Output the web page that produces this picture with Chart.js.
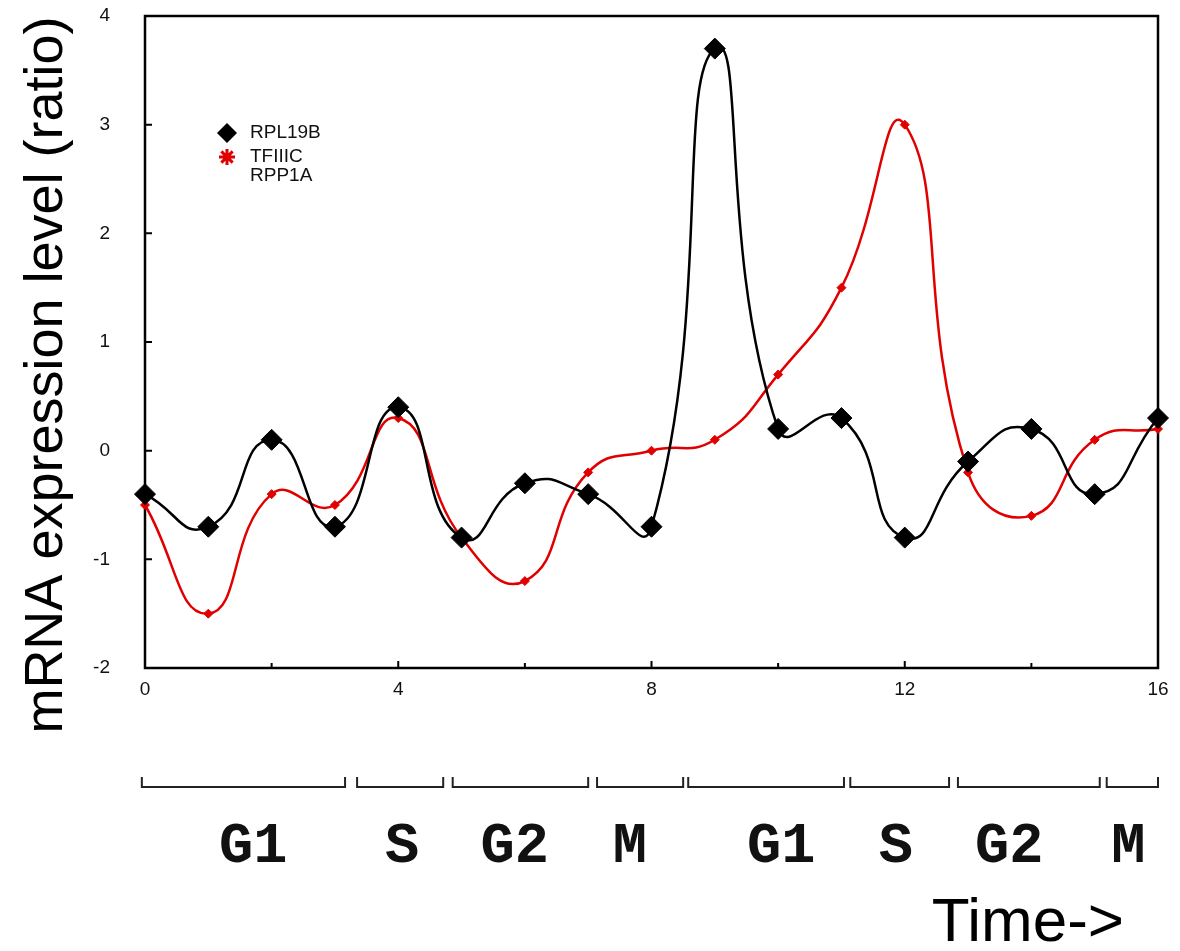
<!DOCTYPE html>
<html>
<head>
<meta charset="utf-8">
<title>mRNA expression level</title>
<script src="https://cdn.jsdelivr.net/npm/chart.js@4.4.0/dist/chart.umd.min.js"></script>
<style>
    html, body { margin: 0; padding: 0; background: #fff; }
    #wrap { position: relative; width: 1180px; height: 951px; }
</style>
</head>
<body>
<div id="wrap"><canvas id="expression_chart" width="1180" height="951"></canvas></div>
<script>
// values
var timePoints = [0, 1, 2, 3, 4, 5, 6, 7, 8, 9, 10, 11, 12, 13, 14, 15, 16];
var rpl19b = [-0.4, -0.7, 0.1, -0.7, 0.4, -0.8, -0.3, -0.4, -0.7, 3.7, 0.2, 0.3, -0.8, -0.1, 0.2, -0.4, 0.3];
var tfiiic = [-0.5, -1.5, -0.4, -0.5, 0.3, -0.8, -1.2, -0.2, 0.0, 0.1, 0.7, 1.5, 3.0, -0.2, -0.6, 0.1, 0.2];
var seriesNames = ['RPL19B', 'TFIIIC', 'RPP1A'];
var xTickLabels = [0, 4, 8, 12, 16];

// cell cycle phases along the time axis (in time units)
var phaseNames = ['G1', 'S', 'G2', 'M', 'G1', 'S', 'G2', 'M'];
var phaseStart = [-0.05, 3.35, 4.86, 7.14, 8.58, 11.14, 12.84, 15.19];
var phaseEnd = [3.16, 4.71, 7.0, 8.5, 11.04, 12.7, 15.08, 16.0];
var phaseLabelAt = [1.71, 4.06, 5.84, 7.66, 10.05, 11.86, 13.65, 15.53];

function toPoints(xs, ys) {
    return xs.map(function (x, i) { return { x: x, y: ys[i] }; });
}

var sansFont = '"Liberation Sans", Arial, sans-serif';

// frame, inward ticks, legend, phase brackets and titles
var extrasPlugin = {
    id: 'extras',
    beforeDatasetsDraw: function (chart) {
        var ctx = chart.ctx, area = chart.chartArea;
        var xs = chart.scales.x, ys = chart.scales.y;
        ctx.save();
        ctx.strokeStyle = '#000';
        ctx.lineWidth = 2.5;
        ctx.strokeRect(area.left, area.top, area.right - area.left, area.bottom - area.top);

        ctx.lineWidth = 2;
        ctx.beginPath();
        for (var v = -2; v <= 4; v++) {
            var py = ys.getPixelForValue(v);
            ctx.moveTo(area.left, py);
            ctx.lineTo(area.left + 7, py);
        }
        for (var t = 0; t <= 16; t += 2) {
            var px = xs.getPixelForValue(t);
            ctx.moveTo(px, area.bottom);
            ctx.lineTo(px, area.bottom - (t % 4 === 0 ? 7 : 5));
        }
        ctx.stroke();
        ctx.restore();
    },
    afterDraw: function (chart) {
        var ctx = chart.ctx, area = chart.chartArea;
        var xs = chart.scales.x;
        ctx.save();

        // legend
        var lx = area.left + 82, rows = [133, 157, 176];
        ctx.fillStyle = '#000';
        ctx.beginPath();
        ctx.moveTo(lx, rows[0] - 10);
        ctx.lineTo(lx + 10, rows[0]);
        ctx.lineTo(lx, rows[0] + 10);
        ctx.lineTo(lx - 10, rows[0]);
        ctx.closePath();
        ctx.fill();

        ctx.strokeStyle = '#e00000';
        ctx.lineWidth = 3;
        ctx.beginPath();
        for (var k = 0; k < 4; k++) {
            var a = k * Math.PI / 4;
            ctx.moveTo(lx - 8 * Math.cos(a), rows[1] - 8 * Math.sin(a));
            ctx.lineTo(lx + 8 * Math.cos(a), rows[1] + 8 * Math.sin(a));
        }
        ctx.stroke();

        ctx.fillStyle = '#111';
        ctx.font = '19px ' + sansFont;
        ctx.textAlign = 'left';
        ctx.textBaseline = 'middle';
        seriesNames.forEach(function (name, i) {
            ctx.fillText(name, lx + 23, rows[i]);
        });

        // phase brackets
        ctx.strokeStyle = '#222';
        ctx.lineWidth = 2;
        ctx.beginPath();
        phaseNames.forEach(function (p, i) {
            var x0 = xs.getPixelForValue(phaseStart[i]);
            var x1 = xs.getPixelForValue(phaseEnd[i]);
            ctx.moveTo(x0, 777);
            ctx.lineTo(x0, 787);
            ctx.lineTo(x1, 787);
            ctx.lineTo(x1, 777);
        });
        ctx.stroke();

        ctx.fillStyle = '#111';
        ctx.font = 'bold 57px "Liberation Mono", "DejaVu Sans Mono", monospace';
        ctx.textAlign = 'center';
        ctx.textBaseline = 'alphabetic';
        phaseNames.forEach(function (p, i) {
            ctx.fillText(p, xs.getPixelForValue(phaseLabelAt[i]), 862);
        });

        // axis titles
        ctx.fillStyle = '#000';
        ctx.font = '62px ' + sansFont;
        ctx.textAlign = 'right';
        ctx.fillText('Time->', 1124, 941);

        ctx.font = '54px ' + sansFont;
        ctx.translate(62, 375);
        ctx.rotate(-Math.PI / 2);
        ctx.textAlign = 'center';
        ctx.fillText('mRNA expression level (ratio)', 0, 0);
        ctx.restore();
    }
};

var ctx = document.getElementById('expression_chart').getContext('2d');
new Chart(ctx, {
    type: 'line',
    data: {
        datasets: [{
            label: seriesNames[0],
            data: toPoints(timePoints, rpl19b),
            borderColor: '#000',
            backgroundColor: '#000',
            borderWidth: 2.5,
            pointStyle: 'rectRot',
            pointRadius: 10.5,
            pointBorderWidth: 1,
            tension: 0.55,
            clip: false
        }, {
            label: seriesNames[1],
            data: toPoints(timePoints, tfiiic),
            borderColor: '#e00000',
            backgroundColor: '#e00000',
            borderWidth: 2.5,
            pointStyle: 'rectRot',
            pointRadius: 4.5,
            pointBorderWidth: 1,
            tension: 0.5,
            clip: false
        }, {
            label: seriesNames[2],
            data: [],
            pointStyle: false
        }]
    },
    options: {
        responsive: false,
        animation: false,
        layout: { padding: { top: 16, right: 22, left: 0, bottom: 0 } },
        plugins: {
            legend: { display: false },
            tooltip: { enabled: false }
        },
        scales: {
            x: {
                type: 'linear',
                min: 0,
                max: 16,
                grid: { display: false, drawTicks: false },
                border: { display: false },
                ticks: {
                    stepSize: 2,
                    padding: 10,
                    color: '#111',
                    font: { family: sansFont, size: 19 },
                    maxRotation: 0,
                    callback: function (value) {
                        return xTickLabels.indexOf(value) >= 0 ? String(value) : '';
                    }
                },
                afterFit: function (scale) { scale.height = 283; }
            },
            y: {
                min: -2,
                max: 4,
                grid: { display: false, drawTicks: false },
                border: { display: false },
                ticks: {
                    stepSize: 1,
                    padding: 35,
                    color: '#111',
                    font: { family: sansFont, size: 19 }
                },
                afterFit: function (scale) {
                    scale.width = 145;
                    // tick padding would otherwise push the plot area down
                    scale.paddingTop = 0;
                    scale.paddingBottom = 0;
                }
            }
        }
    },
    plugins: [extrasPlugin]
});
</script>
</body>
</html>
